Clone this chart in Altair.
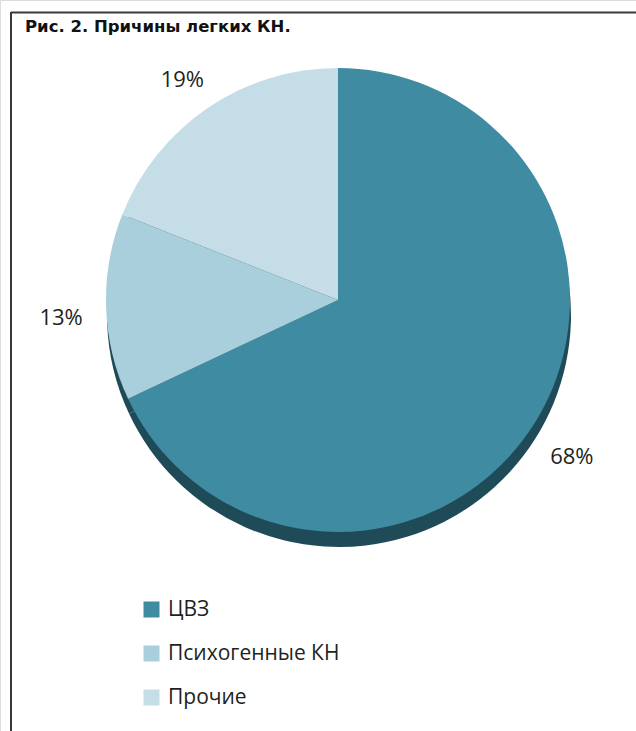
import altair as alt
import pandas as pd

categories = ["ЦВЗ", "Психогенные КН", "Прочие"]
values = [68, 13, 19]
labels = ["68%", "13%", "19%"]
colors = ["#3f8ba2", "#a9cedc", "#c5dde6"]
title_text = "Рис. 2. Причины легких КН."

df = pd.DataFrame({"cat": categories, "value": values, "label": labels,
                   "order": list(range(len(categories)))})

W, H = 636, 731
CX, CY, R = 338, 300, 232
FONT = "Open Sans"

theta = alt.Theta("value:Q", stack=True)
order = alt.Order("order:Q")

color = alt.Color("cat:N",
                  scale=alt.Scale(domain=categories, range=colors),
                  sort=categories,
                  legend=alt.Legend(title=None, orient="none", legendX=141, legendY=599,
                                    symbolType="square", symbolSize=256,
                                    symbolStrokeWidth=0, symbolOffset=0,
                                    labelFont=FONT, labelFontSize=21,
                                    labelColor="#231f20", labelOffset=6,
                                    rowPadding=22, padding=0, labelLimit=400))

base = alt.Chart(df)

shadow = base.mark_arc(radius=R, color="#1f4a57").encode(
    theta=theta, order=order,
    x=alt.value(CX + 1), y=alt.value(CY + 15))

pie = base.mark_arc(radius=R).encode(
    theta=theta, order=order, color=color,
    x=alt.value(CX), y=alt.value(CY))

text = base.mark_text(radius=277, font=FONT, fontSize=22, color="#231f20",
                      align="center", baseline="middle").encode(
    theta=theta, order=order, text="label:N",
    x=alt.value(CX), y=alt.value(CY + 9))

title = alt.Chart(pd.DataFrame({"t": [title_text]})).mark_text(
    font="DejaVu Sans", fontWeight="bold", fontSize=16.5, color="#111111",
    align="left", baseline="alphabetic").encode(
    text="t:N", x=alt.value(25), y=alt.value(32))

frame_top = alt.Chart(pd.DataFrame({"a": [0]})).mark_rule(
    color="#3a3a3a", strokeWidth=2).encode(
    x=alt.value(11), x2=alt.value(W), y=alt.value(12.5))
frame_left = alt.Chart(pd.DataFrame({"a": [0]})).mark_rule(
    color="#3a3a3a", strokeWidth=2).encode(
    x=alt.value(11), y=alt.value(12), y2=alt.value(H))

chart = alt.layer(frame_top, frame_left, title, shadow, pie, text).properties(
    width=W, height=H, padding=0,
    autosize=alt.AutoSizeParams(type="none"),
).configure_view(stroke=None).configure(background="white")

chart.save("out.html", embed_options={"renderer": "svg", "actions": False})
